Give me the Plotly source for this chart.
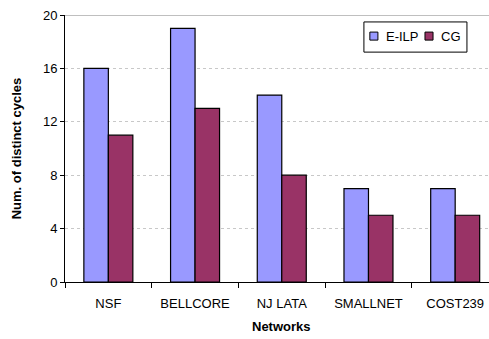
import plotly.graph_objects as go

networks = ["NSF", "BELLCORE", "NJ LATA", "SMALLNET", "COST239"]
e_ilp = [16, 19, 14, 7, 7]
cg = [11, 13, 8, 5, 5]
y_ticks = [0, 4, 8, 12, 16, 20]

series = [("E-ILP", e_ilp, "#9999FF"), ("CG", cg, "#993366")]

FONT = "Liberation Sans, Arial, sans-serif"

fig = go.Figure()
for name, vals, color in series:
    fig.add_trace(go.Bar(name=name, x=networks, y=vals, showlegend=False,
                         marker=dict(color=color, line=dict(color="#000000", width=1.2))))

fig.update_layout(
    width=489, height=339,
    margin=dict(l=65, r=0, t=15, b=57),
    paper_bgcolor="white", plot_bgcolor="white",
    barmode="group", bargap=0.435, bargroupgap=0,
    font=dict(family=FONT, size=13, color="#000000"),
    showlegend=False,
)

fig.update_xaxes(
    type="category", range=[-0.5, 4.39], automargin=False,
    tickson="boundaries", ticks="outside", ticklen=5, tickcolor="#000000",
    showline=True, linecolor="#000000", linewidth=1,
    showgrid=False, tickfont=dict(size=13), tickangle=0, ticklabelstandoff=9,
)
fig.update_yaxes(
    range=[0, 20], tickvals=y_ticks, ticks="outside", ticklen=4, tickcolor="#000000",
    showline=True, linecolor="#000000", linewidth=1, automargin=False,
    showgrid=True, gridcolor="#C8C8C8", griddash="3px,3px", gridwidth=1,
    zeroline=False, tickfont=dict(size=13),
    title=dict(text="<b>Num. of distinct cycles</b>", font=dict(size=13), standoff=18),
)

# plot-area top border
fig.add_shape(type="line", xref="paper", yref="y", x0=0, x1=1, y0=20, y1=20,
              line=dict(color="#808080", width=1))

# boxed legend in the upper right of the plot area
fig.add_shape(type="rect", xref="paper", yref="paper", x0=0.705, x1=0.948,
              y0=0.861, y1=0.974, line=dict(color="#000000", width=1),
              fillcolor="white", layer="above")
legend_items = [(0.719, 0.752), (0.849, 0.882)]
for (sx, tx), (name, _, color) in zip(legend_items, series):
    fig.add_shape(type="rect", xref="paper", yref="paper", x0=sx, x1=sx + 0.019,
                  y0=0.906, y1=0.936, fillcolor=color,
                  line=dict(color="#000000", width=1), layer="above")
    fig.add_annotation(text=name, xref="paper", yref="paper", x=tx, y=0.921,
                       xanchor="left", yanchor="middle", showarrow=False,
                       font=dict(size=13))

fig.add_annotation(text="<b>Networks</b>", xref="paper", yref="paper",
                   x=0.51, y=-0.168, xanchor="center", yanchor="middle",
                   showarrow=False, font=dict(size=13))

fig.write_html("out.html")
